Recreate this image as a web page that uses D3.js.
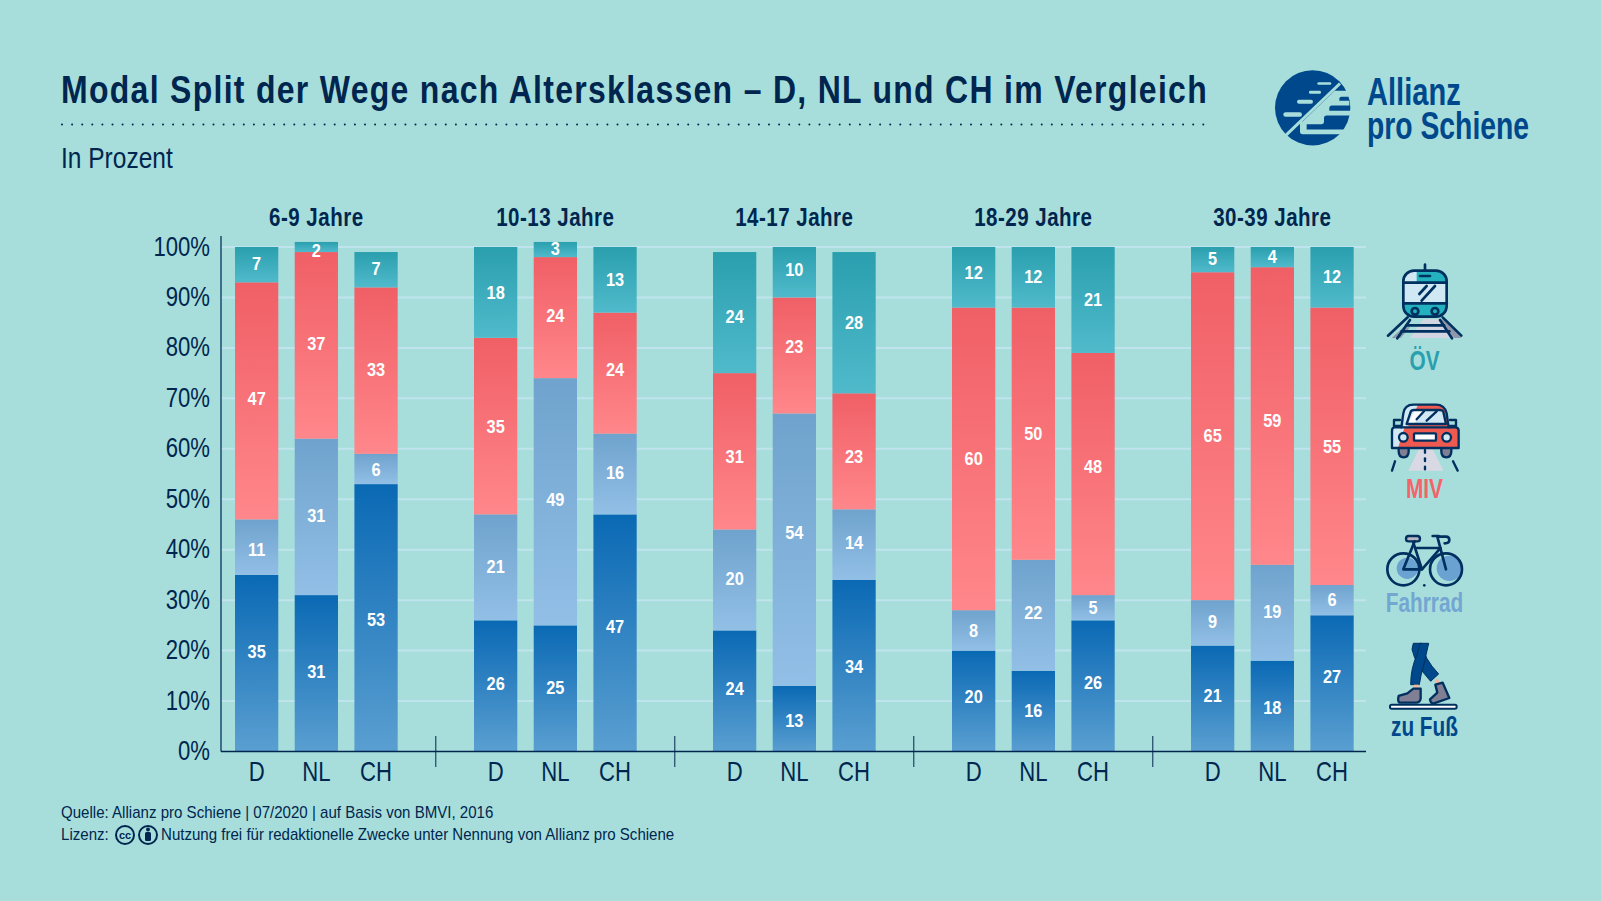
<!DOCTYPE html>
<html>
<head>
<meta charset="utf-8">
<script src="https://d3js.org/d3.v7.min.js"></script>
<style>
html, body { margin: 0; padding: 0; background: #a7dedb; }
svg { display: block; }
text { font-family: "Liberation Sans", sans-serif; fill: #00264f; }
.tick line { display: none; }
</style>
</head>
<body>
<div class="chart"></div>
<script>
// DATA ------------------------------
const groups = ["6-9 Jahre", "10-13 Jahre", "14-17 Jahre", "18-29 Jahre", "30-39 Jahre"];
const countries = ["D", "NL", "CH"];
// every series: one row per age group, one value per country
const fuss =    [[35, 31, 53], [26, 25, 47], [24, 13, 34], [20, 16, 26], [21, 18, 27]];
const fahrrad = [[11, 31, 6],  [21, 49, 16], [20, 54, 14], [8, 22, 5],   [9, 19, 6]];
const miv =     [[47, 37, 33], [35, 24, 24], [31, 23, 23], [60, 50, 48], [65, 59, 55]];
const oev =     [[7, 2, 7],    [18, 3, 13],  [24, 10, 28], [12, 12, 21], [5, 4, 12]];
const yTicks = [0, 10, 20, 30, 40, 50, 60, 70, 80, 90, 100];

// where the number sits on the y scale, the original does not centre them
const fussLabelAt =    [[19.9, 16, 26.2],     [13.6, 12.8, 24.9],   [12.6, 6.3, 17],      [11, 8.3, 13.8],      [11.2, 8.9, 15]];
const fahrradLabelAt = [[40.2, 46.9, 56],     [36.7, 50.1, 55.4],   [34.3, 43.6, 41.6],   [24.1, 27.6, 28.6],   [25.8, 27.8, 30.2]];
const mivLabelAt =     [[70, 80.9, 75.9],     [64.5, 86.6, 75.9],   [58.6, 80.3, 58.6],   [58.2, 63.1, 56.6],   [62.7, 65.7, 60.6]];
const oevLabelAt =     [[96.8, 99.4, 95.9],   [91.1, 99.8, 93.7],   [86.4, 95.7, 85.2],   [95.1, 94.3, 89.7],   [97.8, 98.2, 94.3]];

const seriesNames = ["fuss", "fahrrad", "miv", "oev"];
const seriesValues = [fuss, fahrrad, miv, oev];
const seriesLabelAt = [fussLabelAt, fahrradLabelAt, mivLabelAt, oevLabelAt];
const gradients = [["#0a69b4", "#5a9fd1"], ["#6fa3cd", "#92bfe6"], ["#f05f66", "#ff878b"], ["#2a9fae", "#50bacb"]];

// CHART INIT ------------------------------
const width = 1601, height = 901;
const dark = "#00264f";

const svg = d3.select(".chart")
    .append("svg")
    .attr("width", width)
    .attr("height", height);

svg.append("rect").attr("width", width).attr("height", height).attr("fill", "#a7dedb");

// the original font is condensed, no such font here so squeeze the glyphs
function squeeze(sel, factor) {
    sel.each(function () {
        const len = this.getComputedTextLength();
        d3.select(this)
            .attr("textLength", len * factor)
            .attr("lengthAdjust", "spacingAndGlyphs");
    });
    return sel;
}

// gradients for the four modes, one per bar piece
const defs = svg.append("defs");
seriesNames.forEach((name, i) => {
    const g = defs.append("linearGradient")
        .attr("id", "grad-" + name)
        .attr("x1", 0).attr("y1", 0).attr("x2", 0).attr("y2", 1);
    g.append("stop").attr("offset", "0%").attr("stop-color", gradients[i][0]);
    g.append("stop").attr("offset", "100%").attr("stop-color", gradients[i][1]);
});

// scales
const groupScale = d3.scaleBand()
    .domain(groups)
    .range([196.8, 196.8 + 5 * 239]);

const countryScale = d3.scaleBand()
    .domain(countries)
    .range([30, 209.1])
    .paddingInner(0.275)
    .paddingOuter(0.1375);

const yScale = d3.scaleLinear()
    .domain([0, 100])
    .range([751.5, 247]);

const axisLeftX = 221, axisRightX = 1366;

// gridlines sit under the bars
svg.append("g")
    .selectAll("line")
    .data(yTicks.filter(d => d > 0))
    .join("line")
    .attr("x1", axisLeftX)
    .attr("x2", axisRightX)
    .attr("y1", d => yScale(d))
    .attr("y2", d => yScale(d))
    .attr("stroke", "#bfe4ee")
    .attr("stroke-width", 2);

// BARS ------------------------------
const rows = [];
groups.forEach((group, g) => {
    countries.forEach((country, c) => {
        let base = 0;
        seriesNames.forEach((name, s) => {
            const value = seriesValues[s][g][c];
            rows.push({group, country, name, value, y0: base, y1: base + value, labelAt: seriesLabelAt[s][g][c]});
            base += value;
        });
    });
});

const barX = d => groupScale(d.group) + countryScale(d.country);

svg.append("g")
    .selectAll("rect")
    .data(rows)
    .join("rect")
    .attr("x", barX)
    .attr("width", countryScale.bandwidth())
    .attr("y", d => yScale(d.y1))
    .attr("height", d => yScale(d.y0) - yScale(d.y1))
    .attr("fill", d => `url(#grad-${d.name})`);

svg.append("g")
    .selectAll("text")
    .data(rows)
    .join("text")
    .attr("x", d => barX(d) + countryScale.bandwidth() / 2)
    .attr("y", d => yScale(d.labelAt) + 7)
    .attr("text-anchor", "middle")
    .style("fill", "#fff")
    .style("font-weight", "bold")
    .style("font-size", "19px")
    .text(d => d.value)
    .call(squeeze, 0.86);

// AXES ------------------------------
const yAxis = d3.axisLeft(yScale)
    .tickValues(yTicks)
    .tickFormat(d => d + "%")
    .tickSize(0)
    .tickPadding(11);

const yG = svg.append("g")
    .attr("transform", `translate(${axisLeftX},-2)`)
    .call(yAxis);
yG.select(".domain").remove();
yG.selectAll("text").style("font-size", "28px").attr("dy", "0.36em").call(squeeze, 0.79);

svg.append("line")
    .attr("x1", axisLeftX).attr("x2", axisLeftX)
    .attr("y1", 236).attr("y2", yScale(0))
    .attr("stroke", "#1d4a70").attr("stroke-width", 1.5);

svg.append("line")
    .attr("x1", axisLeftX).attr("x2", axisRightX)
    .attr("y1", yScale(0)).attr("y2", yScale(0))
    .attr("stroke", dark).attr("stroke-width", 1.5);

groups.forEach(group => {
    const xAxis = d3.axisBottom(countryScale).tickSize(0).tickPadding(0);
    const g = svg.append("g")
        .attr("transform", `translate(${groupScale(group)},${yScale(0)})`)
        .call(xAxis);
    g.select(".domain").remove();
    g.selectAll("text").style("font-size", "28px").attr("y", 10).attr("dy", "0.71em").call(squeeze, 0.79);

    svg.append("text")
        .attr("x", groupScale(group) + groupScale.bandwidth() / 2)
        .attr("y", 225.5)
        .attr("text-anchor", "middle")
        .style("font-weight", "bold")
        .style("font-size", "25px")
        .style("letter-spacing", "0.6px")
        .text(group)
        .call(squeeze, 0.82);
});

// separators between the age groups
svg.append("g")
    .selectAll("line")
    .data(groups.slice(1))
    .join("line")
    .attr("x1", d => groupScale(d))
    .attr("x2", d => groupScale(d))
    .attr("y1", 736)
    .attr("y2", 767)
    .attr("stroke", dark)
    .attr("stroke-width", 1);

// TITLES ------------------------------
svg.append("text")
    .attr("x", 61).attr("y", 103)
    .attr("textLength", 1147)
    .attr("lengthAdjust", "spacingAndGlyphs")
    .style("font-size", "39px")
    .style("font-weight", "bold")
    .style("letter-spacing", "1.6px")
    .text("Modal Split der Wege nach Altersklassen – D, NL und CH im Vergleich");

svg.append("line")
    .attr("x1", 62).attr("x2", 1208)
    .attr("y1", 124.5).attr("y2", 124.5)
    .attr("stroke", dark)
    .attr("stroke-width", 2)
    .attr("stroke-linecap", "round")
    .attr("stroke-dasharray", "0 10.1");

svg.append("text")
    .attr("x", 61).attr("y", 167.5)
    .style("font-size", "29px")
    .text("In Prozent")
    .call(squeeze, 0.845);

svg.append("text")
    .attr("x", 61).attr("y", 818)
    .style("font-size", "17px")
    .text("Quelle: Allianz pro Schiene | 07/2020 | auf Basis von BMVI, 2016")
    .call(squeeze, 0.886);

svg.append("text")
    .attr("x", 61).attr("y", 840)
    .style("font-size", "17px")
    .text("Lizenz:")
    .call(squeeze, 0.886);

svg.append("text")
    .attr("x", 161).attr("y", 840)
    .style("font-size", "17px")
    .text("Nutzung frei für redaktionelle Zwecke unter Nennung von Allianz pro Schiene")
    .call(squeeze, 0.886);

// cc badges
const cc = svg.append("g").attr("fill", "none").attr("stroke", dark).attr("stroke-width", 2);
cc.append("circle").attr("cx", 125).attr("cy", 835).attr("r", 9);
cc.append("circle").attr("cx", 148).attr("cy", 835).attr("r", 9);
svg.append("text").attr("x", 125).attr("y", 839).attr("text-anchor", "middle")
    .style("font-size", "11px").style("font-weight", "bold").text("cc");
svg.append("circle").attr("cx", 148).attr("cy", 829.5).attr("r", 2).attr("fill", dark);
svg.append("rect").attr("x", 145).attr("y", 832).attr("width", 6).attr("height", 9).attr("rx", 1.5).attr("fill", dark);

// LOGO ------------------------------
const logoBlue = "#00488c", bg = "#a7dedb";
const logo = svg.append("g").attr("transform", "translate(1240,53.5) scale(0.3333)");
logo.append("circle").attr("cx", 218).attr("cy", 163).attr("r", 113).attr("fill", logoBlue);
logo.html(logo.html() + `
  <g fill="${bg}">
    <rect x="232" y="86" width="42" height="8" rx="4"/>
    <rect x="207" y="112" width="36" height="9" rx="4"/>
    <rect x="171" y="139" width="48" height="12" rx="6"/>
    <rect x="130" y="176" width="56" height="14" rx="7"/>
    <path d="M284 112 h34 q8 0 8 10 v8 h-22 q-6 0 -6 6 v6 h30 v14 h-52 q-8 0 -8 8 v8 h62 v14 h-70 q-8 0 -8 8 v10 q0 8 -8 8 h-44 v16 h124 l-10 14 h-126 q-8 0 -8 -8 v-22 q0 -8 8 -8 z"/>
  </g>
  <line x1="300" y1="90" x2="135" y2="248" stroke="${bg}" stroke-width="9"/>`);

svg.append("text").attr("x", 1367).attr("y", 105)
    .style("font-size", "38px").style("font-weight", "bold").style("fill", logoBlue).text("Allianz")
    .call(squeeze, 0.765);
svg.append("text").attr("x", 1367).attr("y", 138.5)
    .style("font-size", "38px").style("font-weight", "bold").style("fill", logoBlue).text("pro Schiene")
    .call(squeeze, 0.745);

// LEGEND ------------------------------
const legendNames = ["ÖV", "MIV", "Fahrrad", "zu Fuß"];
const legendColors = ["#2a9fae", "#f4636a", "#74a6d2", "#00488c"];
const legendY = [370, 498, 612, 736];

svg.append("g")
    .selectAll("text")
    .data(legendNames)
    .join("text")
    .attr("x", 1424.5)
    .attr("y", (d, i) => legendY[i])
    .attr("text-anchor", "middle")
    .style("font-size", "27px")
    .style("font-weight", "bold")
    .style("fill", (d, i) => legendColors[i])
    .text(d => d)
    .call(squeeze, 0.77);

// icons are plain drawings, coords in 3x units of the icon box
const ink = "#00305f";
const iconTop = svg.append("g").attr("transform", "translate(1360,250) scale(0.3333)");
iconTop.html(`
  <!-- train -->
  <polygon points="150,264 190,208 240,208 305,264" fill="#d3d6e2"/>
  <polygon points="95,264 130,232 150,232 122,264" fill="#8f97ab"/>
  <polygon points="240,208 258,208 305,264 282,264" fill="#8f97ab"/>
  <rect x="130" y="62" width="130" height="138" rx="32" fill="#cfe8f3"/>
  <path d="M170 62 h60 q30 0 30 30 v6 h-90 z" fill="#22b1bd"/>
  <path d="M130 160 h130 v8 q0 32 -32 32 h-66 q-32 0 -32 -32 z" fill="#22b1bd"/>
  <g fill="none" stroke="${ink}" stroke-width="8" stroke-linecap="round" stroke-linejoin="round">
    <line x1="195" y1="44" x2="195" y2="60"/>
    <rect x="130" y="62" width="130" height="138" rx="32"/>
    <line x1="130" y1="98" x2="260" y2="98"/>
    <line x1="130" y1="160" x2="260" y2="160"/>
    <line x1="180" y1="78" x2="210" y2="78"/>
    <line x1="143" y1="202" x2="84" y2="257"/>
    <line x1="248" y1="202" x2="304" y2="257"/>
    <line x1="150" y1="210" x2="112" y2="265"/>
    <line x1="240" y1="210" x2="276" y2="265"/>
    <line x1="140" y1="226" x2="252" y2="226"/>
    <line x1="125" y1="244" x2="268" y2="244"/>
    <line x1="225" y1="108" x2="185" y2="152"/>
    <line x1="200" y1="108" x2="178" y2="132"/>
    <circle cx="165" cy="184" r="10"/>
    <circle cx="225" cy="184" r="10"/>
  </g>
  <!-- car -->
  <polygon points="145,662 180,590 215,590 250,662" fill="#d9d8e5"/>
  <path d="M116 592 h30 v12 q0 18 -15 18 q-15 0 -15 -18 z" fill="#807f94" stroke="${ink}" stroke-width="7"/>
  <path d="M244 592 h30 v12 q0 18 -15 18 q-15 0 -15 -18 z" fill="#807f94" stroke="${ink}" stroke-width="7"/>
  <path d="M132 530 l0 -40 q4 -26 30 -26 h66 q24 0 30 26 l6 40 z" fill="#ef5a50"/>
  <path d="M132 530 l0 -40 q4 -26 30 -26 h12 l-30 66 z" fill="#cfe8f3"/>
  <path d="M96 534 h198 v60 h-198 z" fill="#ef5a50"/>
  <path d="M96 540 q0 -8 8 -8 h30 l-20 62 h-18 z" fill="#cfe8f3"/>
  <path d="M140 522 l12 -36 q2 -6 10 -6 h78 q8 0 10 6 l8 36 z" fill="#cfe8f3"/>
  <polygon points="150,510 165,480 192,480 160,524 142,524" fill="#ffffff"/>
  <g fill="none" stroke="${ink}" stroke-width="7" stroke-linecap="round" stroke-linejoin="round">
    <path d="M124 532 l6 -42 q4 -26 30 -26 h68 q26 0 32 26 l6 42"/>
    <path d="M140 522 l12 -36 q2 -6 10 -6 h78 q8 0 10 6 l8 36 z"/>
    <path d="M104 532 h182 q10 0 10 10 v52 h-200 v-52 q0 -10 8 -10 z"/>
    <path d="M124 528 h-22 v-18 h18"/>
    <path d="M266 528 h22 v-18 h-18"/>
    <circle cx="130" cy="562" r="13" fill="#cfe8f3"/>
    <circle cx="260" cy="562" r="13" fill="#cfe8f3"/>
    <rect x="162" y="550" width="66" height="22" rx="3" fill="#fff"/>
    <line x1="105" y1="634" x2="96" y2="662"/>
    <line x1="279" y1="634" x2="293" y2="662"/>
    <line x1="195" y1="600" x2="195" y2="608"/>
    <line x1="195" y1="625" x2="195" y2="633"/>
    <line x1="195" y1="650" x2="195" y2="658"/>
    <line x1="170" y1="508" x2="192" y2="484"/>
    <line x1="200" y1="512" x2="230" y2="484"/>
  </g>`);

const iconBottom = svg.append("g").attr("transform", "translate(1360,510) scale(0.3333)");
iconBottom.html(`
  <!-- bike -->
  <circle cx="142" cy="175" r="32" fill="#6aa2d2"/>
  <circle cx="268" cy="175" r="38" fill="#6aa2d2"/>
  <rect x="138" y="78" width="42" height="16" rx="8" fill="#b9b6c4" stroke="${ink}" stroke-width="7"/>
  <g fill="none" stroke="${ink}" stroke-width="8" stroke-linecap="round" stroke-linejoin="round">
    <circle cx="130" cy="178" r="48"/>
    <circle cx="258" cy="178" r="48"/>
    <path d="M164 94 l-34 84 h56 l56 -64 h-72"/>
    <path d="M186 178 l-26 -80"/>
    <path d="M258 178 l-26 -98 h26 q10 0 10 10 q0 10 -14 10"/>
    <line x1="218" y1="78" x2="236" y2="78"/>
  </g>
  <circle cx="193" cy="226" r="4" fill="${ink}"/>
  <!-- feet -->
  <path d="M160 400 h26 q4 44 50 92 l-24 22 q-46 -50 -56 -96 z" fill="#00488c" stroke="${ink}" stroke-width="3"/>
  <path d="M206 400 l-14 62 q-10 34 -14 62 h-26 q0 -50 20 -92 l8 -32 z" fill="#00488c" stroke="${ink}" stroke-width="3"/>
  <path d="M162 524 h14 v12 h-14 z" fill="#f3b7a0"/>
  <path d="M224 510 l10 -4 l6 14 l-10 4 z" fill="#f3b7a0"/>
  <path d="M160 536 h22 v30 q-2 12 -14 12 h-50 q-6 -6 -2 -20 l26 -8 z" fill="#807f94" stroke="${ink}" stroke-width="7" stroke-linejoin="round"/>
  <path d="M226 524 l22 -6 l20 46 l-46 16 q-10 2 -12 -12 l22 -20 z" fill="#807f94" stroke="${ink}" stroke-width="7" stroke-linejoin="round"/>
  <rect x="90" y="584" width="200" height="12" rx="5" fill="#fff" stroke="${ink}" stroke-width="6"/>`);
</script>
</body>
</html>
